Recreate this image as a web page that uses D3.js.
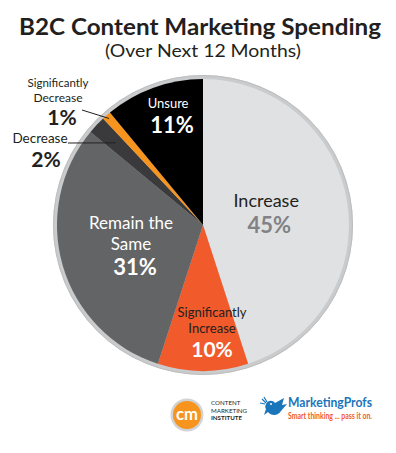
<!DOCTYPE html>
<html>
<head>
<meta charset="utf-8">
<style>
  body { margin: 0; background: #fff; }
  svg { display: block; }
  text { font-family: Lato, "Open Sans", sans-serif; }
</style>
</head>
<body>
<script src="https://cdn.jsdelivr.net/npm/d3@7"></script>
<script>

// ---- data
var categories = ["Increase", "Significantly Increase", "Remain the Same", "Decrease", "Significantly Decrease", "Unsure"];
var values = [45, 10, 31, 2, 1, 11];
var colors = ["#e0e1e3", "#f15a2b", "#636466", "#3a3a3c", "#f7941d", "#000000"];
var labelLines = [["Increase"], ["Significantly", "Increase"], ["Remain the", "Same"], ["Decrease"], ["Significantly", "Decrease"], ["Unsure"]];

var width = 396, height = 453;
var cx = 203, cy = 225, rOuter = 150, rPie = 146;

var svg = d3.select("body").append("svg")
    .attr("width", width)
    .attr("height", height);

// title
svg.append("text")
    .attr("x", 200).attr("y", 34.8)
    .attr("text-anchor", "middle")
    .attr("font-family", "'Liberation Sans', Arial, sans-serif")
    .attr("font-weight", 700)
    .attr("font-size", 23.5)
    .attr("fill", "#231f20")
    .attr("textLength", 362).attr("lengthAdjust", "spacingAndGlyphs")
    .text("B2C Content Marketing Spending");

svg.append("text")
    .attr("x", 203).attr("y", 56.5)
    .attr("text-anchor", "middle")
    .attr("font-family", "'Liberation Sans', Arial, sans-serif")
    .attr("font-size", 18)
    .attr("fill", "#231f20")
    .attr("textLength", 196).attr("lengthAdjust", "spacingAndGlyphs")
    .text("(Over Next 12 Months)");

// pie
var g = svg.append("g").attr("transform", "translate(" + cx + "," + cy + ")");

g.append("circle").attr("r", rOuter).attr("fill", "#cacbcc");
g.append("circle").attr("r", rOuter - 0.5).attr("fill", "none").attr("stroke", "#bdbebf").attr("stroke-width", 1);

var pie = d3.pie().sort(null).value(function(d) { return d; });
var arc = d3.arc().innerRadius(0).outerRadius(rPie);
var arcs = pie(values);

g.selectAll("path.slice")
    .data(arcs)
    .enter().append("path")
    .attr("class", "slice")
    .attr("d", arc)
    .attr("fill", function(d, i) { return colors[i]; });

// labels: anchor on mid-angle at radius r, lines offset from it
var labelCfg = {
  0: {r: 66, dx: [-2, 1], dy: [-8, 18], size: [18, 22], fill: ["#231f20", "#808285"]},
  1: {r: 112, dx: [9, 9, 9], dy: [-20, -4, 20], size: [13, 13, 21], fill: ["#231f20", "#231f20", "#ffffff"]},
  2: {r: 74, dx: [-1, -1, 3], dy: [-16.5, 4, 29.5], size: [17, 17, 22], fill: ["#ffffff", "#ffffff", "#ffffff"]},
  5: {r: 112, dx: [3, 7], dy: [-11.5, 13.5], size: [13, 22], fill: ["#ffffff", "#ffffff"]}
};

arcs.forEach(function(d, i) {
  var cfg = labelCfg[i];
  if (!cfg) return;
  var c = d3.arc().innerRadius(cfg.r).outerRadius(cfg.r).centroid(d);
  var lines = labelLines[i].concat([values[i] + "%"]);
  var t = g.append("text").attr("text-anchor", "middle");
  lines.forEach(function(l, j) {
    t.append("tspan")
      .attr("x", c[0] + cfg.dx[j]).attr("y", c[1] + cfg.dy[j])
      .attr("font-size", cfg.size[j])
      .attr("font-weight", j === lines.length - 1 ? 700 : 400)
      .attr("fill", cfg.fill[j])
      .text(l);
  });
});

// outside labels with leader lines
var outside = {
  3: {x: [40, 46], y: [143, 167], size: [13.5, 21], lx: 68, ly: 143, r: 120},
  4: {x: [58, 58, 62], y: [87, 101.5, 125], size: [11.5, 12, 21], lx: 82, ly: 110, r: 142}
};

arcs.forEach(function(d, i) {
  var cfg = outside[i];
  if (!cfg) return;
  var lines = labelLines[i].concat([values[i] + "%"]);
  var t = svg.append("text").attr("text-anchor", "middle").attr("fill", "#231f20");
  lines.forEach(function(l, j) {
    t.append("tspan")
      .attr("x", cfg.x[j]).attr("y", cfg.y[j])
      .attr("font-size", cfg.size[j])
      .attr("font-weight", j === lines.length - 1 ? 700 : 400)
      .text(l);
  });
  var a = (d.startAngle + d.endAngle) / 2;
  var ex = cx + cfg.r * Math.sin(a), ey = cy - cfg.r * Math.cos(a);
  svg.append("line")
    .attr("x1", cfg.lx).attr("y1", cfg.ly)
    .attr("x2", ex).attr("y2", ey)
    .attr("stroke", "#231f20").attr("stroke-width", 1);
});

// logos
var cmi = svg.append("g").attr("transform", "translate(187,415)");
cmi.append("circle").attr("r", 16.5).attr("fill", "#d1d3d4");
cmi.append("circle").attr("r", 14).attr("fill", "#f7941d");
cmi.append("text")
    .attr("y", 5).attr("text-anchor", "middle")
    .attr("font-family", "Lato, sans-serif").attr("font-weight", 700)
    .attr("font-size", 17).attr("fill", "#fff")
    .attr("textLength", 22).attr("lengthAdjust", "spacingAndGlyphs")
    .text("cm");
var cmiText = svg.append("text")
    .attr("font-family", "'Liberation Sans', Arial, sans-serif")
    .attr("font-size", 6.2)
    .attr("fill", "#231f20");
["CONTENT", "MARKETING", "INSTITUTE"].forEach(function(t, j) {
  cmiText.append("tspan")
    .attr("x", 211).attr("y", 405 + j * 7.5)
    .attr("font-weight", j === 2 ? 700 : 400)
    .text(t);
});

var bird = svg.append("g").attr("transform", "translate(260,397)").attr("fill", "#1b75bb");
bird.append("path").attr("d", "M6,7 C8,3 13,3 15,6 L24,1 L22,8 L27,7 L21,14 C18,19 11,19 8,15 L4,18 L6,12 C5,11 5,9 6,7 Z");
bird.append("path").attr("d", "M2,2 L6,6 M0,6 L5,7 M4,0 L7,5").attr("stroke", "#1b75bb").attr("stroke-width", 1.2);
bird.append("circle").attr("cx", 11).attr("cy", 7).attr("r", 1).attr("fill", "#fff");

var mp = svg.append("text")
    .attr("font-family", "'Liberation Serif', 'DejaVu Serif', serif")
    .attr("font-weight", 700);
mp.append("tspan")
    .attr("x", 288).attr("y", 407)
    .attr("font-size", 13)
    .attr("fill", "#1b75bb")
    .attr("textLength", 84).attr("lengthAdjust", "spacingAndGlyphs")
    .text("MarketingProfs");
mp.append("tspan")
    .attr("x", 288).attr("y", 418.5)
    .attr("font-size", 8.5)
    .attr("fill", "#f15a2b")
    .attr("textLength", 84).attr("lengthAdjust", "spacingAndGlyphs")
    .text("Smart thinking ... pass it on.");

</script>
</body>
</html>
